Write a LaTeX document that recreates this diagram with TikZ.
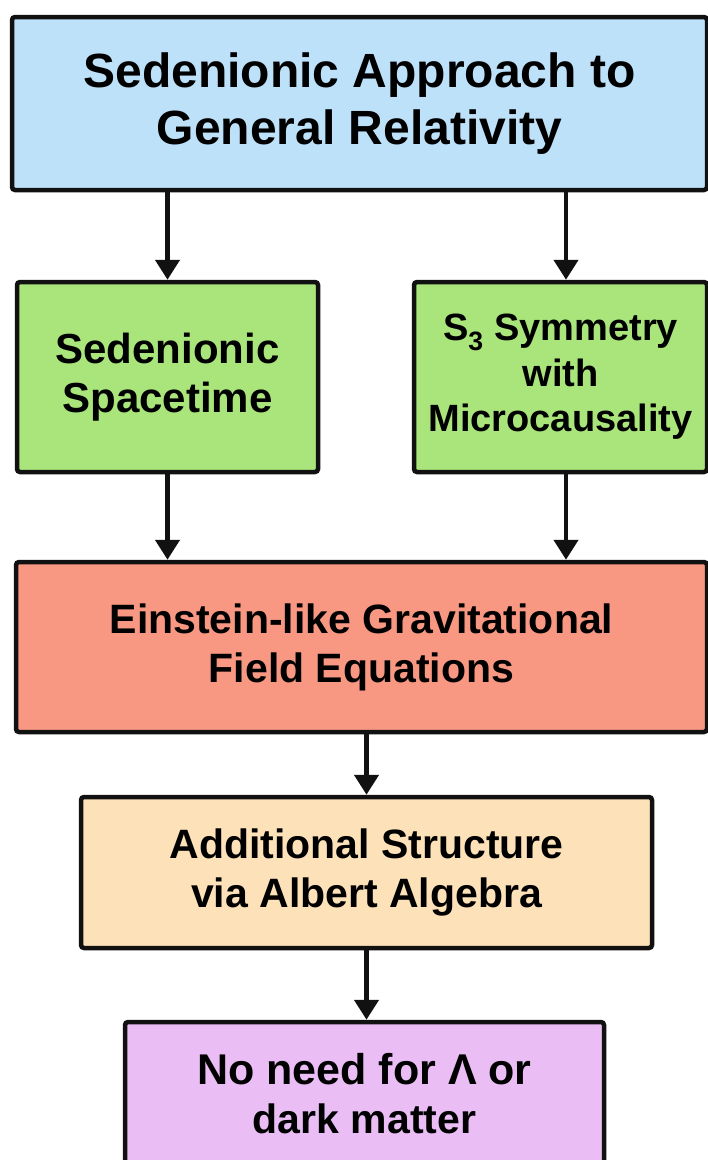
\documentclass[tikz,border=0pt]{standalone}
\usepackage{fontspec}
\setmainfont{Liberation Sans}
\usepackage{xcolor}
\usepackage{tikz}
\usetikzlibrary{arrows.meta, positioning}
\definecolor{sedline}{HTML}{111111}
\definecolor{sedblue}{HTML}{BEE1FA}
\definecolor{sedgreen}{HTML}{A9E57B}
\definecolor{sedred}{HTML}{F99882}
\definecolor{sedsand}{HTML}{FDE2B9}
\definecolor{sedviolet}{HTML}{EABDF4}
\tikzset{
  box/.style={draw=sedline, line width=4.5pt, rounded corners=3pt, align=center,
              inner sep=0pt, font=\fontsize{41}{49}\selectfont\bfseries},
  titlebox/.style={box, fill=sedblue, font=\fontsize{48}{57}\selectfont\bfseries},
  greenbox/.style={box, fill=sedgreen},
  redbox/.style={box, fill=sedred},
  sandbox/.style={box, fill=sedsand},
  violetbox/.style={box, fill=sedviolet},
  flow/.style={-{Triangle[length=20pt, width=24pt]}, line width=4.5pt, draw=sedline},
}

\begin{document}
\begin{tikzpicture}[x=1pt, y=1pt]
  \fill[white] (0,0) rectangle (708,-1160);
  \useasboundingbox (0,0) rectangle (708,-1160);

  \node[titlebox, minimum width=695pt, minimum height=173pt] (approach) at (359.5,-103.5)
    {Sedenionic Approach to\\ General Relativity};

  \node[greenbox, minimum width=301pt, minimum height=190pt] (spacetime) at (167.5,-377)
    {\fontsize{42}{47}\selectfont Sedenionic\\ \fontsize{42}{47}\selectfont Spacetime};
  \node[greenbox, minimum width=293pt, minimum height=190pt,
        font=\fontsize{38}{45.5}\selectfont\bfseries] (symmetry) at (560.5,-377)
    {S\textsubscript{3} Symmetry\\ with\\ Microcausality};

  \node[redbox, minimum width=691pt, minimum height=170pt] (einstein) at (361.5,-647)
    {\fontsize{41}{50}\selectfont Einstein-like Gravitational\\ Field Equations};
  \node[sandbox, minimum width=571pt, minimum height=151pt] (albert) at (366.5,-872.5)
    {\fontsize{41}{48}\selectfont Additional Structure\\ via Albert Algebra};
  \node[violetbox, minimum width=479pt, minimum height=152pt] (noneed) at (364.5,-1098)
    {\fontsize{43}{50}\selectfont No need for Λ or\\ dark matter\rule[-10pt]{0pt}{0pt}};

  \coordinate (symtop) at ([xshift=5.5pt]symmetry.north);
  \coordinate (symbot) at ([xshift=5.5pt]symmetry.south);

  \draw[flow] (approach.south -| spacetime.north) -- (spacetime.north);
  \draw[flow] (approach.south -| symtop) -- (symtop);
  \draw[flow] (spacetime.south) -- (spacetime.south |- einstein.north);
  \draw[flow] (symbot) -- (symbot |- einstein.north);
  \draw[flow] (einstein.south -| albert.north) -- (albert.north);
  \draw[flow] (albert.south) -- (albert.south |- noneed.north);
\end{tikzpicture}
\end{document}
